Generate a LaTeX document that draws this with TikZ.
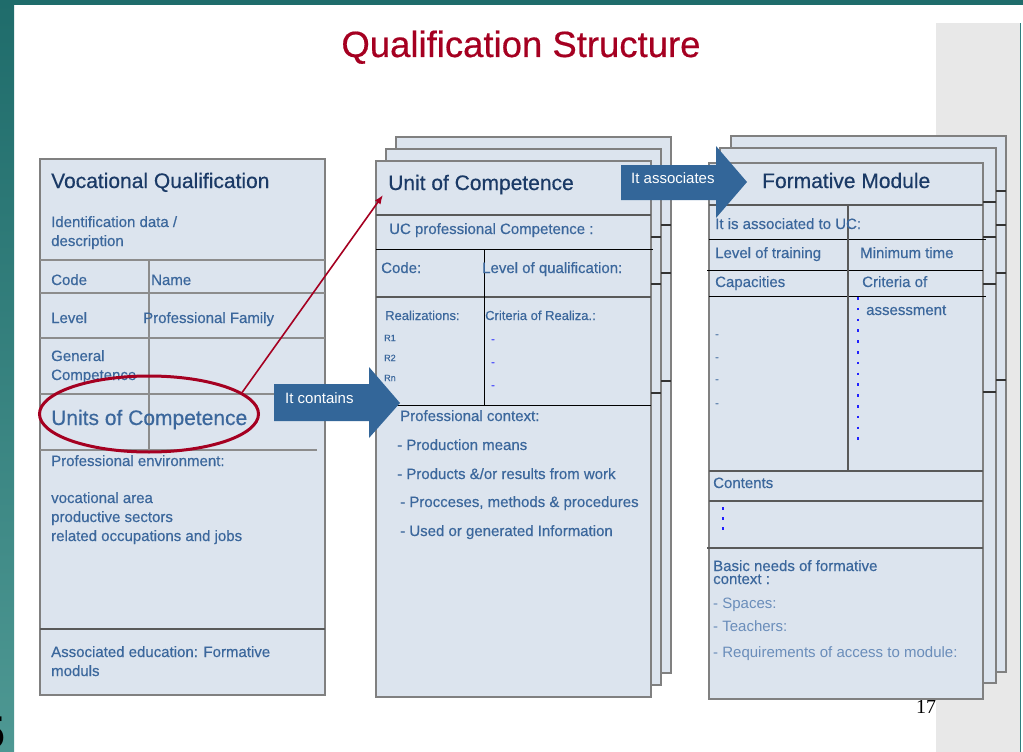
\documentclass[tikz,border=0pt]{standalone}
\usepackage{fontspec}
\setmainfont{Liberation Sans}
\newfontfamily\medfont[FakeBold=0.45]{Liberation Sans}
\newfontfamily\numfont{Liberation Serif}
\usetikzlibrary{shapes.geometric,arrows.meta}
\definecolor{panelfill}{HTML}{DCE4EE}
\definecolor{panelborder}{HTML}{808080}
\definecolor{navy}{HTML}{1B3A66}
\definecolor{bodyblue}{HTML}{3B679C}
\definecolor{lightblue}{HTML}{6A8DBA}
\definecolor{arrowblue}{HTML}{336699}
\definecolor{darkred}{HTML}{A50021}
\definecolor{tealtop}{HTML}{1F6C6B}
\definecolor{tealbot}{HTML}{4E9893}
\definecolor{tealedge}{HTML}{2F7F7F}
\definecolor{grayarea}{HTML}{E8E8E8}
\definecolor{dashblue}{HTML}{2020FF}
\tikzset{
  sheet/.style={fill=panelfill, draw=panelborder, line width=2pt},
  blackrule/.style={draw=black, line width=1pt},
  grayrule/.style={draw=black!65, line width=1.6pt},
  lightrule/.style={draw=black!45, line width=1.5pt},
  tick/.style={draw=black!80, line width=1.2pt},
  txt/.style={anchor=base west, inner sep=0pt, text=bodyblue, font=\medfont\fontsize{15}{17}\selectfont},
  headtxt/.style={anchor=base west, inner sep=0pt, text=navy, font=\medfont\fontsize{21}{24}\selectfont},
  smalltxt/.style={txt, font=\medfont\fontsize{13}{15}\selectfont},
  tinytxt/.style={txt, font=\medfont\fontsize{9}{10}\selectfont},
  lighttxt/.style={txt, text=lightblue, font=\fontsize{15}{17}\selectfont},
  dashtxt/.style={anchor=center, inner sep=0pt, text=bodyblue, font=\medfont\fontsize{11}{12}\selectfont},
  bluedashtxt/.style={anchor=center, inner sep=0pt, text=dashblue, font=\medfont\fontsize{11}{12}\selectfont},
  blockarrow/.style={fill=arrowblue},
  arrowtxt/.style={anchor=base west, inner sep=0pt, text=white, font=\fontsize{15}{17}\selectfont},
}
\begin{document}
\begin{tikzpicture}[x=1pt,y=-1pt]
\useasboundingbox (0,0) rectangle (1023,752);
% ---------- background ----------
\fill[white] (0,0) rectangle (1023,752);
\shade[top color=tealtop,bottom color=tealbot] (0,0) rectangle (14,752);
\fill[tealtop] (0,0) rectangle (1023,5);
\fill[grayarea] (936,23) rectangle (1019.5,752);
\fill[tealedge] (1019.5,23) rectangle (1021,752);
\node[anchor=base east, inner sep=0pt, font=\fontsize{46}{50}\selectfont\bfseries] (pagenum) at (5,748) {5};
\node[anchor=base west, inner sep=0pt, font=\numfont\fontsize{20}{22}\selectfont] (slidenum) at (916,713) {17};

% ---------- title ----------
\node[anchor=base, inner sep=0pt, text=darkred, font=\medfont\fontsize{36.5}{40}\selectfont] (title) at (521,57) {Qualification Structure};

% ---------- left panel: Vocational Qualification ----------
\draw[sheet] (40,159) rectangle (325,695);
\draw[lightrule] (40,260) -- (325,260);
\draw[lightrule] (40,293) -- (325,293);
\draw[lightrule] (40,338) -- (325,338);
\draw[lightrule] (40,394) -- (325,394);
\draw[lightrule] (40,450) -- (317,450);
\draw[lightrule] (149,260) -- (149,450);
\draw[grayrule] (40,629) -- (325,629);
\node[headtxt] (vqTitle) at (51,188) {Vocational Qualification};
\node[txt] (vqId1) at (51,227) {Identification data /};
\node[txt] (vqId2) at (51,246) {description};
\node[txt] (vqCode) at (51,285) {Code};
\node[txt] (vqName) at (151,285) {Name};
\node[txt] (vqLevel) at (51,323) {Level};
\node[txt] (vqFamily) at (143,323) {Professional Family};
\node[txt] (vqGen1) at (51,361) {General};
\node[txt] (vqGen2) at (51,380) {Competence};
\node[txt, font=\medfont\fontsize{21}{24}\selectfont] (vqUnits) at (51,425) {Units of Competence};
\node[txt] (vqEnv) at (51,466) {Professional environment:};
\node[txt] (vqEnv1) at (51,503) {vocational area};
\node[txt] (vqEnv2) at (51,522) {productive sectors};
\node[txt] (vqEnv3) at (51,541) {related occupations and jobs};
\node[txt] (vqAssoc1) at (51,657) {Associated education: Formative};
\node[txt] (vqAssoc2) at (51,676) {moduls};

% ---------- middle panel: Unit of Competence ----------
\draw[sheet] (396,137) rectangle (671,673);
\draw[sheet] (386,149) rectangle (661,685);
\draw[tick] (661,225) -- (671,225);
\draw[tick] (661,273) -- (671,273);
\draw[tick] (661,381) -- (671,381);
\draw[sheet] (376,161) rectangle (651,697);
\draw[tick] (651,237) -- (661,237);
\draw[tick] (651,284) -- (661,284);
\draw[tick] (651,393) -- (661,393);
\draw[grayrule] (376,215) -- (651,215);
\draw[blackrule] (376,249) -- (653,249);
\draw[grayrule] (376,297) -- (651,297);
\draw[blackrule] (376,405) -- (651,405);
\draw[blackrule] (484,249) -- (484,405);
\node[headtxt] (ucTitle) at (388,190) {Unit of Competence};
\node[txt] (ucComp) at (389,234) {UC professional Competence :};
\node[txt] (ucCode) at (381,273) {Code:};
\node[txt] (ucLevel) at (482,273) {Level of qualification:};
\node[smalltxt] (ucReal) at (385,320) {Realizations:};
\node[smalltxt] (ucCrit) at (485,320) {Criteria of Realiza.:};
\node[tinytxt] (ucR1) at (384,341) {R1};
\node[tinytxt] (ucR2) at (384,361) {R2};
\node[tinytxt] (ucRn) at (384,381) {Rn};
\node[bluedashtxt] (ucD1) at (493,341) {-};
\node[bluedashtxt] (ucD2) at (493,364) {-};
\node[bluedashtxt] (ucD3) at (493,387) {-};
\node[txt] (ucCtx) at (400,421) {Professional context:};
\node[txt] (ucCtx1) at (397,450) {- Production means};
\node[txt] (ucCtx2) at (397,479) {- Products \&/or results from work};
\node[txt] (ucCtx3) at (400,507) {- Procceses, methods \& procedures};
\node[txt] (ucCtx4) at (400,536) {- Used or generated Information};

% ---------- right panel: Formative Module ----------
\draw[sheet] (731,136) rectangle (1006,672);
\draw[sheet] (720,148) rectangle (996,683);
\draw[tick] (996,191) -- (1006,191);
\draw[tick] (996,225) -- (1006,225);
\draw[tick] (996,273) -- (1006,273);
\draw[tick] (996,380) -- (1006,380);
\draw[sheet] (709,163) rectangle (983,699);
\draw[tick] (983,202) -- (996,202);
\draw[tick] (983,237) -- (996,237);
\draw[tick] (983,284) -- (996,284);
\draw[tick] (983,392) -- (996,392);
\draw[grayrule] (709,205) -- (983,205);
\draw[blackrule] (709,239) -- (986,239);
\draw[blackrule] (707,270) -- (983,270);
\draw[blackrule] (709,296) -- (986,296);
\draw[grayrule] (709,471) -- (983,471);
\draw[grayrule] (709,501) -- (983,501);
\draw[grayrule] (707,548) -- (983,548);
\draw[grayrule] (848,205) -- (848,471);
\node[headtxt] (fmTitle) at (762,188) {Formative Module};
\node[txt] (fmAssoc) at (715,229) {It is associated to UC:};
\node[txt] (fmLevel) at (715,258) {Level of training};
\node[txt] (fmTime) at (860,258) {Minimum time};
\node[txt] (fmCap) at (715,287) {Capacities};
\node[txt] (fmCrit) at (862,287) {Criteria of};
\node[txt] (fmAssess) at (866,315) {assessment};
\node[dashtxt] (fmC1) at (717,336) {-};
\node[dashtxt] (fmC2) at (717,359) {-};
\node[dashtxt] (fmC3) at (717,381) {-};
\node[dashtxt] (fmC4) at (717,405) {-};
\draw[dashblue, line width=2.2pt, dash pattern=on 2.5pt off 8.3pt] (858,297) -- (858,441);
\node[txt] (fmContents) at (713,488) {Contents};
\draw[dashblue, line width=2.2pt, dash pattern=on 2.5pt off 7.5pt] (723,507) -- (723,531);
\node[txt] (fmBasic1) at (713,571) {Basic needs of formative};
\node[txt] (fmBasic2) at (713,584) {context :};
\node[lighttxt] (fmSpaces) at (713,608) {- Spaces:};
\node[lighttxt] (fmTeachers) at (713,631) {- Teachers:};
\node[lighttxt] (fmReq) at (713,657) {- Requirements of access to module:};

% ---------- ellipse and red connector ----------
\node[ellipse, draw=darkred, line width=3pt, minimum width=219, minimum height=76, inner sep=0pt] (ell) at (149,414) {};
\coordinate (ucTip) at (383,195);
\draw[darkred, line width=1.6pt, -{Latex[length=9pt,width=7pt]}] (ell.13) -- (ucTip);

% ---------- block arrows ----------
\fill[blockarrow] (274,384) -- (369,384) -- (369,367) -- (400,403) -- (369,438) -- (369,421) -- (274,421) -- cycle;
\node[arrowtxt] (contains) at (285,403) {It contains};
\fill[blockarrow] (621,165) -- (716,165) -- (716,146) -- (747,182) -- (716,218) -- (716,200) -- (621,200) -- cycle;
\node[arrowtxt] (associates) at (631,183) {It associates};
\end{tikzpicture}
\end{document}
